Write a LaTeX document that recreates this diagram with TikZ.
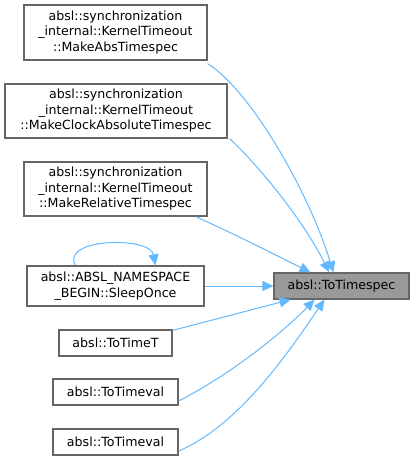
\documentclass[tikz,border=0pt]{standalone}
\usepackage{fontspec}
\setmainfont{DejaVu Sans}
\usetikzlibrary{arrows.meta}
\definecolor{edgeblue}{HTML}{63B8FF}
\definecolor{boxline}{HTML}{666666}
\definecolor{hifill}{HTML}{999999}
\begin{document}
\begin{tikzpicture}[x=1pt,y=-1pt,
  box/.style={draw=boxline,line width=1.2pt,fill=white,inner sep=0pt,align=center,
    font=\fontsize{12.6}{15.5}\selectfont},
  edge/.style={draw=edgeblue,line width=1pt,-{Triangle[length=11pt,width=10pt]}}]
\useasboundingbox (0,0) rectangle (415,460);
\node[box,minimum width=183pt,minimum height=55pt] (n1) at (115.5,32.5)
  {absl::synchronization\\\_internal::KernelTimeout\\::MakeAbsTimespec};
\node[box,minimum width=222pt,minimum height=54pt] (n2) at (116,111)
  {absl::synchronization\\\_internal::KernelTimeout\\::MakeClockAbsoluteTimespec};
\node[box,minimum width=183pt,minimum height=54pt] (n3) at (115.5,189)
  {absl::synchronization\\\_internal::KernelTimeout\\::MakeRelativeTimespec};
\node[box,minimum width=177pt,minimum height=40pt] (n4) at (115.5,286)
  {absl::ABSL\_NAMESPACE\\\_BEGIN::SleepOnce};
\node[box,minimum width=113pt,minimum height=26pt] (n5) at (115.5,343) {absl::ToTimeT};
\node[box,minimum width=125pt,minimum height=26pt] (n6) at (115.5,392) {absl::ToTimeval};
\node[box,minimum width=125pt,minimum height=26pt] (n7) at (115.5,442) {absl::ToTimeval};
\node[box,fill=hifill,minimum width=135pt,minimum height=26pt] (t) at (341.5,286) {absl::ToTimespec};

\draw[edge] ([yshift=-3pt]n1.south east) .. controls (250,90) and (308,190) .. ([xshift=-8pt]t.north);
\draw[edge] ([xshift=2pt]n2.south east) .. controls (255,162) and (300,215) .. ([xshift=-12pt]t.north);
\draw[edge] ([xshift=-12pt]n3.south east) .. controls (230,232) and (270,252) .. ([xshift=-31pt]t.north);
\draw[edge] (n4.east) -- (t.west);
\draw[edge] ([xshift=-40pt]n4.north) .. controls (60,238) and (150,236) .. ([xshift=40pt]n4.north);
\draw[edge] ([yshift=-1pt]n5.north east) -- ([xshift=-51pt]t.south);
\draw[edge] ([yshift=-9pt]n6.east) .. controls (235,372) and (285,330) .. ([xshift=-27pt]t.south);
\draw[edge] ([yshift=-9pt]n7.east) .. controls (240,425) and (290,350) .. ([xshift=-17pt]t.south);
\end{tikzpicture}
\end{document}
